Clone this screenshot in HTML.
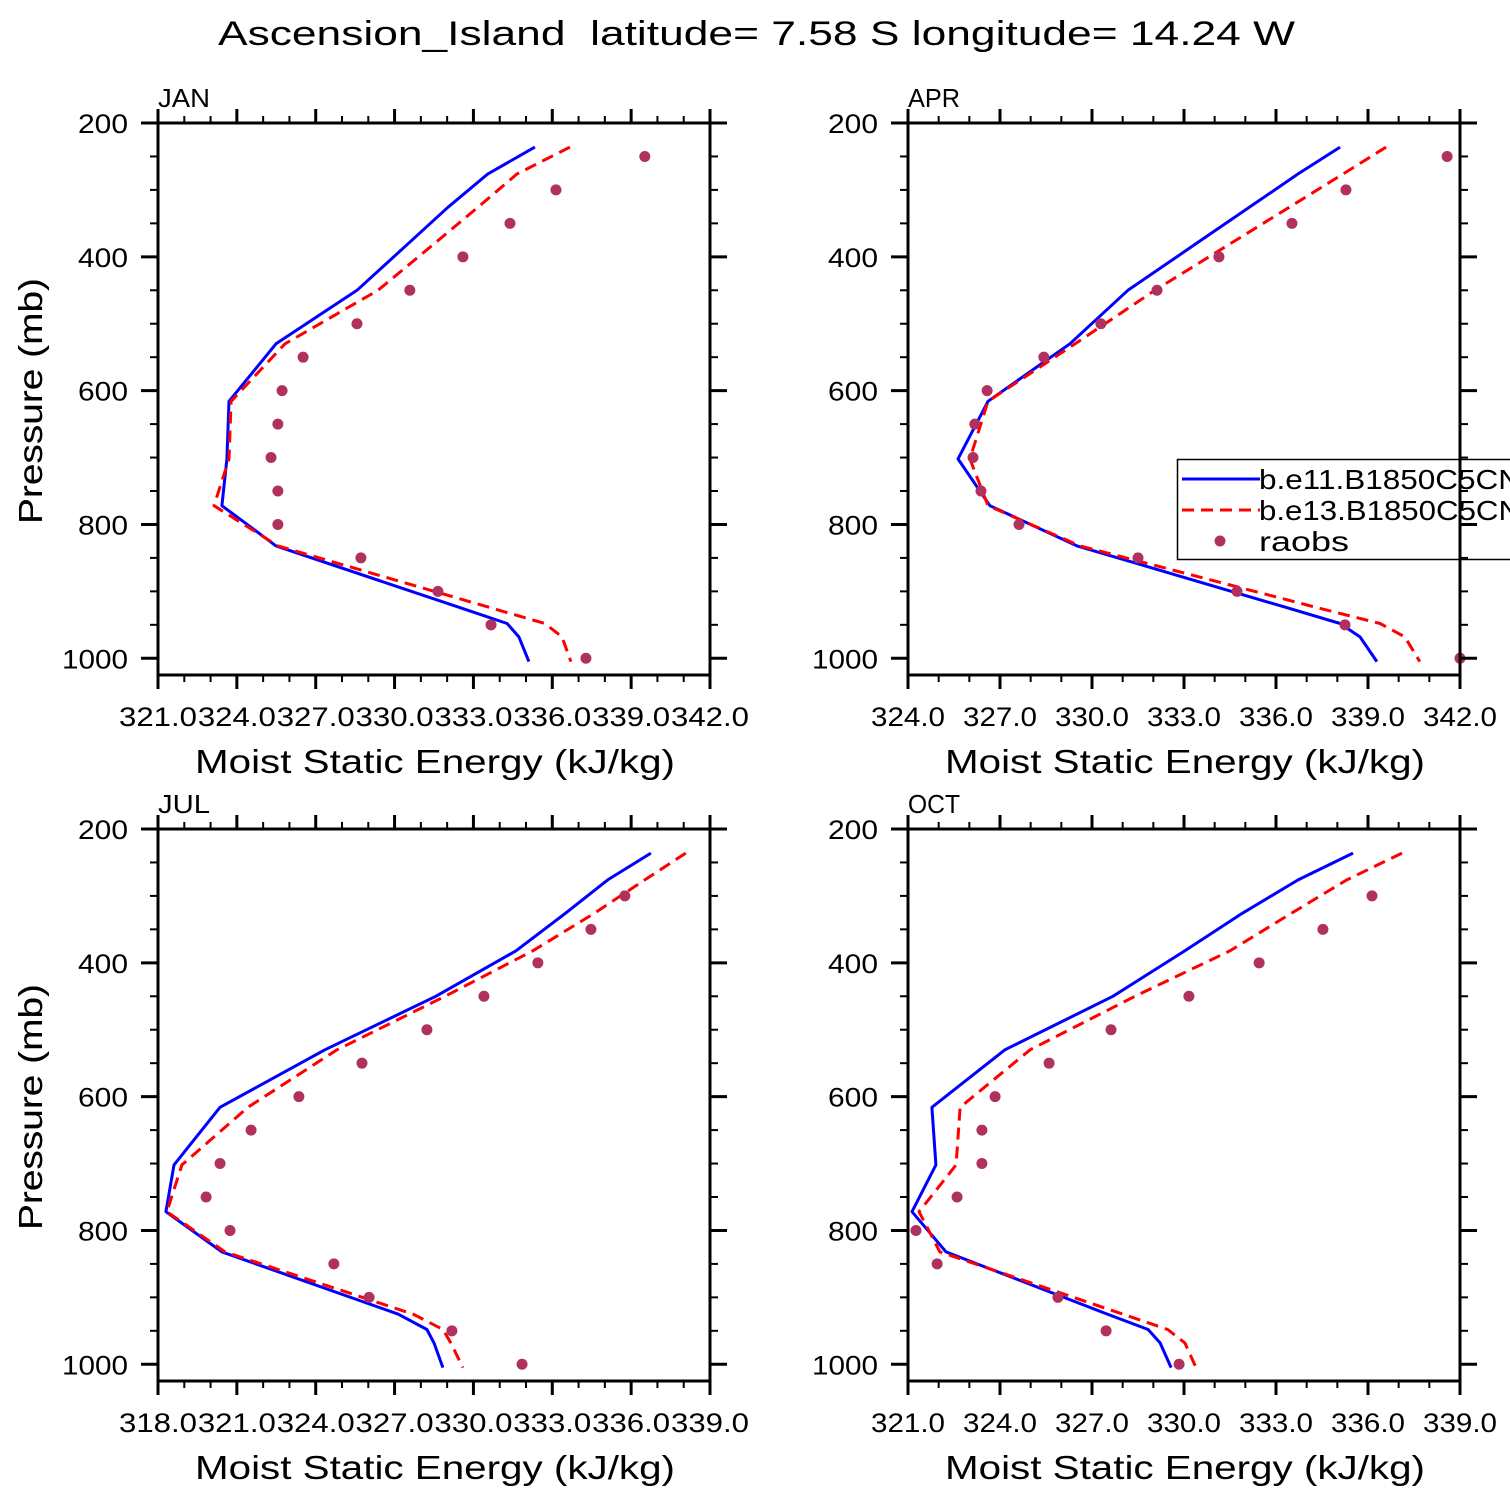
<!DOCTYPE html>
<html><head><meta charset="utf-8"><style>
html,body{margin:0;padding:0;background:#fff;}
svg{display:block;font-family:"Liberation Sans",sans-serif;}
</style></head><body>
<svg id="chart" width="1510" height="1510" viewBox="0 0 1510 1510" xmlns="http://www.w3.org/2000/svg">
<rect width="1510" height="1510" fill="#fff"/>
<text x="218" y="45" font-size="34" textLength="1077" lengthAdjust="spacingAndGlyphs" style="white-space:pre" xml:space="preserve">Ascension_Island  latitude= 7.58 S longitude= 14.24 W</text>
</svg>
<script>
// ---- data ----
var modelLevels = [236, 276, 326, 382, 450, 530, 616, 702, 772, 832, 925, 948, 968, 1005];
var obsLevels = [250, 300, 350, 400, 450, 500, 550, 600, 650, 700, 750, 800, 850, 900, 950, 1000];

var janBlue = [335.34, 333.55, 332.03, 330.47, 328.57, 325.49, 323.70, 323.62, 323.43, 325.49, 332.54, 334.28, 334.73, 335.11];
var janRed  = [336.67, 334.66, 333.17, 331.46, 329.37, 325.83, 323.78, 323.70, 323.13, 325.56, 333.7, 335.72, 336.37, 336.71];
var janObs  = [339.52, 336.14, 334.39, 332.60, 330.58, 328.57, 326.52, 325.72, 325.56, 325.30, 325.56, 325.56, 328.72, 331.65, 333.67, 337.28];

var aprBlue = [338.09, 336.72, 335.13, 333.34, 331.17, 329.28, 326.61, 325.63, 326.67, 329.51, 336.4, 338.09, 338.74, 339.29];
var aprRed  = [339.59, 338.19, 336.43, 334.45, 332.05, 329.45, 326.61, 326.02, 326.61, 329.61, 337.4, 339.39, 340.20, 340.69];
var aprObs  = [341.58, 338.28, 336.52, 334.14, 332.12, 330.29, 328.43, 326.58, 326.18, 326.12, 326.38, 327.62, 331.50, 334.73, 338.25, 342.0];

var julBlue = [336.75, 335.11, 333.5, 331.62, 328.57, 324.35, 320.36, 318.61, 318.30, 320.43, 327.13, 328.23, 328.50, 328.84];
var julRed  = [338.08, 336.52, 334.6, 332.26, 328.92, 324.81, 321.42, 318.91, 318.34, 320.55, 327.70, 328.84, 329.14, 329.60];
var julObs  = [null, 335.76, 334.47, 332.45, 330.40, 328.23, 325.76, 323.36, 321.54, 320.36, 319.83, 320.74, 324.69, 326.03, 329.18, 331.85];

var octBlue = [335.51, 333.72, 331.9, 330.03, 327.68, 324.16, 321.78, 321.91, 321.13, 322.24, 327.5, 328.83, 329.22, 329.58];
var octRed  = [337.11, 335.31, 333.5, 331.50, 328.40, 324.98, 322.70, 322.57, 321.36, 322.04, 328.0, 329.47, 330.03, 330.39];
var octObs  = [null, 336.13, 334.53, 332.45, 330.16, 327.62, 325.60, 323.84, 323.41, 323.41, 322.60, 321.26, 321.95, 325.89, 327.46, 329.84];

var panelNames = ["JAN", "APR", "JUL", "OCT"];
var xMins = [321, 324, 318, 321];
var xMaxs = [342, 342, 339, 339];
var yTicks = [200, 400, 600, 800, 1000];

// ---- drawing ----
var NS = "http://www.w3.org/2000/svg";
var svg = document.getElementById("chart");
function mk(tag, attrs, parent) {
  var e = document.createElementNS(NS, tag);
  for (var k in attrs) e.setAttribute(k, attrs[k]);
  (parent || svg).appendChild(e);
  return e;
}
var series = [[janBlue, janRed, janObs], [aprBlue, aprRed, aprObs], [julBlue, julRed, julObs], [octBlue, octRed, octObs]];
var origins = [[158, 123], [908, 123], [158, 829], [908, 829]];
var W = 552, H = 552, PMIN = 200, PMAX = 1025;

for (var p = 0; p < 4; p++) {
  var ox = origins[p][0], oy = origins[p][1];
  var xmin = xMins[p], xmax = xMaxs[p];
  var g = mk("g", {});
  
  
  var xs = (function (ox, xmin, xmax) { return function (v) { return ox + (v - xmin) / (xmax - xmin) * W; }; })(ox, xmin, xmax);
  var ys = (function (oy) { return function (v) { return oy + (v - PMIN) / (PMAX - PMIN) * H; }; })(oy);

  var lbl = mk("text", {x: ox, y: oy - 16, "font-size": 26, textLength: 52, lengthAdjust: "spacingAndGlyphs"}, g);
  lbl.textContent = panelNames[p];
  
  

  var cols = ["#0000ff", "#ff0000"];
  for (var s = 0; s < 2; s++) {
    var d = "";
    var arr = series[p][s];
    for (var i = 0; i < arr.length; i++) d += (i ? "L" : "M") + xs(arr[i]).toFixed(1) + "," + ys(modelLevels[i]).toFixed(1);
    var path = mk("path", {d: d, fill: "none", stroke: cols[s], "stroke-width": 3, "stroke-linejoin": "round"}, g);
    if (s === 1) path.setAttribute("stroke-dasharray", "12,7");
    
    
  }
  var obs = series[p][2];
  for (var i = 0; i < obs.length; i++) {
    if (obs[i] === null) continue;
    var c = mk("circle", {cx: xs(obs[i]), cy: ys(obsLevels[i]), r: 5.5, fill: "#b03060"}, g);
    
    
  }

  if (p === 1) {
    var lg = mk("g", {}, g);
    
    
    mk("rect", {x: 1177.5, y: 459.5, width: 400, height: 100, fill: "#fff", stroke: "#000", "stroke-width": 1.5}, lg);
    mk("line", {x1: 1182, y1: 479, x2: 1260, y2: 479, stroke: "#0000ff", "stroke-width": 3}, lg);
    mk("line", {x1: 1182, y1: 510, x2: 1260, y2: 510, stroke: "#ff0000", "stroke-width": 3, "stroke-dasharray": "12,7"}, lg);
    mk("circle", {cx: 1220, cy: 541, r: 5.5, fill: "#b03060"}, lg);
    var t1 = mk("text", {x: 1259, y: 489, "font-size": 28, textLength: 262, lengthAdjust: "spacingAndGlyphs"}, lg); t1.textContent = "b.e11.B1850C5CN";
    
    
    var t2 = mk("text", {x: 1259, y: 520, "font-size": 28, textLength: 262, lengthAdjust: "spacingAndGlyphs"}, lg); t2.textContent = "b.e13.B1850C5CN";
    
    
    var t3 = mk("text", {x: 1259, y: 551, "font-size": 28, textLength: 90, lengthAdjust: "spacingAndGlyphs"}, lg); t3.textContent = "raobs";
    
    
  }

  var fr = mk("rect", {x: ox, y: oy, width: W, height: H, fill: "none", stroke: "#000", "stroke-width": 3}, g);
  
  

  for (var v = xmin; v <= xmax + 1e-6; v += 1) {
    var major = Math.round(v - xmin) % 3 === 0;
    var L = major ? 14 : 7, X = xs(v);
    mk("line", {x1: X, y1: oy + H, x2: X, y2: oy + H + L, stroke: "#000", "stroke-width": major ? 3 : 2}, g);
    mk("line", {x1: X, y1: oy, x2: X, y2: oy - L, stroke: "#000", "stroke-width": major ? 3 : 2}, g);
    if (major) {
      var lw = (xmax - xmin) === 21 ? 78 : 74;
      var tl = mk("text", {x: X - lw / 2, y: oy + H + 51, "font-size": 27, textLength: lw, lengthAdjust: "spacingAndGlyphs"}, g);
      tl.textContent = v.toFixed(1);
      
      
    }
  }
  for (var v = 200; v <= 1000; v += 50) {
    var major = yTicks.indexOf(v) >= 0;
    var L = major ? 17 : 8, Y = ys(v);
    mk("line", {x1: ox, y1: Y, x2: ox - L, y2: Y, stroke: "#000", "stroke-width": major ? 3 : 2}, g);
    mk("line", {x1: ox + W, y1: Y, x2: ox + W + L, y2: Y, stroke: "#000", "stroke-width": major ? 3 : 2}, g);
    if (major) {
      var tw = v >= 1000 ? 66 : 50;
      var yl = mk("text", {x: ox - 30 - tw, y: Y + 10, "font-size": 27, textLength: tw, lengthAdjust: "spacingAndGlyphs"}, g);
      yl.textContent = v;
      
      
    }
  }
  var xt = mk("text", {x: ox + 37, y: oy + H + 98, "font-size": 33, textLength: 480, lengthAdjust: "spacingAndGlyphs"}, g);
  xt.textContent = "Moist Static Energy (kJ/kg)";
  
  
  var cy = oy + 278;
  var yt = mk("text", {x: 42 - 123, y: cy, "font-size": 33, textLength: 246, lengthAdjust: "spacingAndGlyphs", transform: "rotate(-90 42 " + cy + ")"}, g);
  yt.setAttribute("x", 42 - 123);
  yt.textContent = "Pressure (mb)";
  
  
}
</script>
</body></html>
